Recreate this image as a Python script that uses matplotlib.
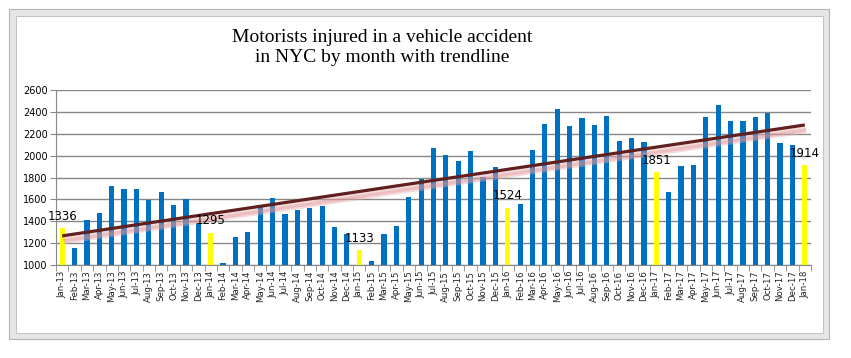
import numpy as np
import matplotlib
matplotlib.use("Agg")
import matplotlib.pyplot as plt
import matplotlib.patheffects as pe
from matplotlib.patches import Rectangle

# monthly values Jan-13 .. Jan-18
months = ["Jan-13", "Feb-13", "Mar-13", "Apr-13", "May-13", "Jun-13", "Jul-13", "Aug-13", "Sep-13", "Oct-13", "Nov-13", "Dec-13",
          "Jan-14", "Feb-14", "Mar-14", "Apr-14", "May-14", "Jun-14", "Jul-14", "Aug-14", "Sep-14", "Oct-14", "Nov-14", "Dec-14",
          "Jan-15", "Feb-15", "Mar-15", "Apr-15", "May-15", "Jun-15", "Jul-15", "Aug-15", "Sep-15", "Oct-15", "Nov-15", "Dec-15",
          "Jan-16", "Feb-16", "Mar-16", "Apr-16", "May-16", "Jun-16", "Jul-16", "Aug-16", "Sep-16", "Oct-16", "Nov-16", "Dec-16",
          "Jan-17", "Feb-17", "Mar-17", "Apr-17", "May-17", "Jun-17", "Jul-17", "Aug-17", "Sep-17", "Oct-17", "Nov-17", "Dec-17",
          "Jan-18"]
injured = [1336, 1158, 1415, 1478, 1722, 1695, 1695, 1594, 1670, 1549, 1606, 1381,
           1295, 1021, 1259, 1302, 1546, 1613, 1466, 1503, 1521, 1540, 1350, 1283,
           1133, 1037, 1283, 1357, 1622, 1789, 2070, 2006, 1951, 2042, 1805, 1896,
           1524, 1558, 2052, 2292, 2426, 2271, 2344, 2280, 2362, 2134, 2161, 2125,
           1851, 1668, 1905, 1914, 2353, 2463, 2317, 2317, 2353, 2390, 2116, 2097,
           1914]

x = np.arange(len(months))
vals = np.array(injured)
is_jan = np.array([m.startswith("Jan") for m in months])
colors = np.where(is_jan, "#FFFF00", "#0070C0")

W, H = 851, 358
fig = plt.figure(figsize=(W / 100, H / 100), dpi=100)

# excel-like chart frame
fig.patches.append(Rectangle((9 / W, 1 - 339 / H), 820 / W, 330 / H, transform=fig.transFigure,
                             facecolor="#e6e6e6", edgecolor="#b4b4b4", lw=0.8, zorder=-3))
fig.patches.append(Rectangle((16 / W, 1 - 333 / H), 807 / W, 317 / H, transform=fig.transFigure,
                             facecolor="white", edgecolor="#c4c4c4", lw=0.8, zorder=-2))

ax = fig.add_axes([56 / W, (H - 265) / H, (811 - 56) / W, 175 / H])
ax.bar(x, vals, width=0.42, color=colors, zorder=2)

# linear trendline with soft pink glow underneath
k, b = np.polyfit(x, vals, 1)
ax.plot(x, k * x + b, color="#60201f", lw=2.3, zorder=4, solid_capstyle="butt",
        path_effects=[pe.SimpleLineShadow(offset=(1, -3.5), shadow_color="#e8a8a8", alpha=0.4, linewidth=5),
                      pe.SimpleLineShadow(offset=(1, -3.5), shadow_color="#dc8c8c", alpha=0.35, linewidth=2.5),
                      pe.Normal()])

# January labels
for xi, v in zip(x[is_jan], vals[is_jan]):
    ax.annotate(str(v), (xi, v), xytext=(0, 8.5), textcoords="offset points",
                ha="center", va="center", fontsize=8.5, color="black", zorder=5)

ax.set_xlim(-0.5, len(months) - 0.5)
ax.set_ylim(1000, 2600)
ax.set_yticks(range(1000, 2601, 200))
ax.yaxis.grid(True, color="#878787", lw=1)
ax.set_axisbelow(True)
ax.set_xticks(x)
ax.set_xticklabels(months, rotation=90, fontsize=6.2, color="#222222")
ax.set_xticks(np.arange(-0.5, len(months)), minor=True)
ax.tick_params(axis="x", which="major", length=0, pad=4)
ax.tick_params(axis="x", which="minor", length=4, color="#878787", direction="out")
ax.tick_params(axis="y", labelsize=7, length=4, color="#878787", pad=2)
for s in ["top", "right"]:
    ax.spines[s].set_visible(False)
for s in ["left", "bottom"]:
    ax.spines[s].set_color("#878787")

fig.text(382 / W, 1 - 37 / H, "Motorists injured in a vehicle accident", ha="center", va="center",
         family="Liberation Serif", fontsize=14)
fig.text(382 / W, 1 - 58 / H, "in NYC by month with trendline", ha="center", va="center",
         family="Liberation Serif", fontsize=14)

fig.savefig("out.png", dpi=100)
